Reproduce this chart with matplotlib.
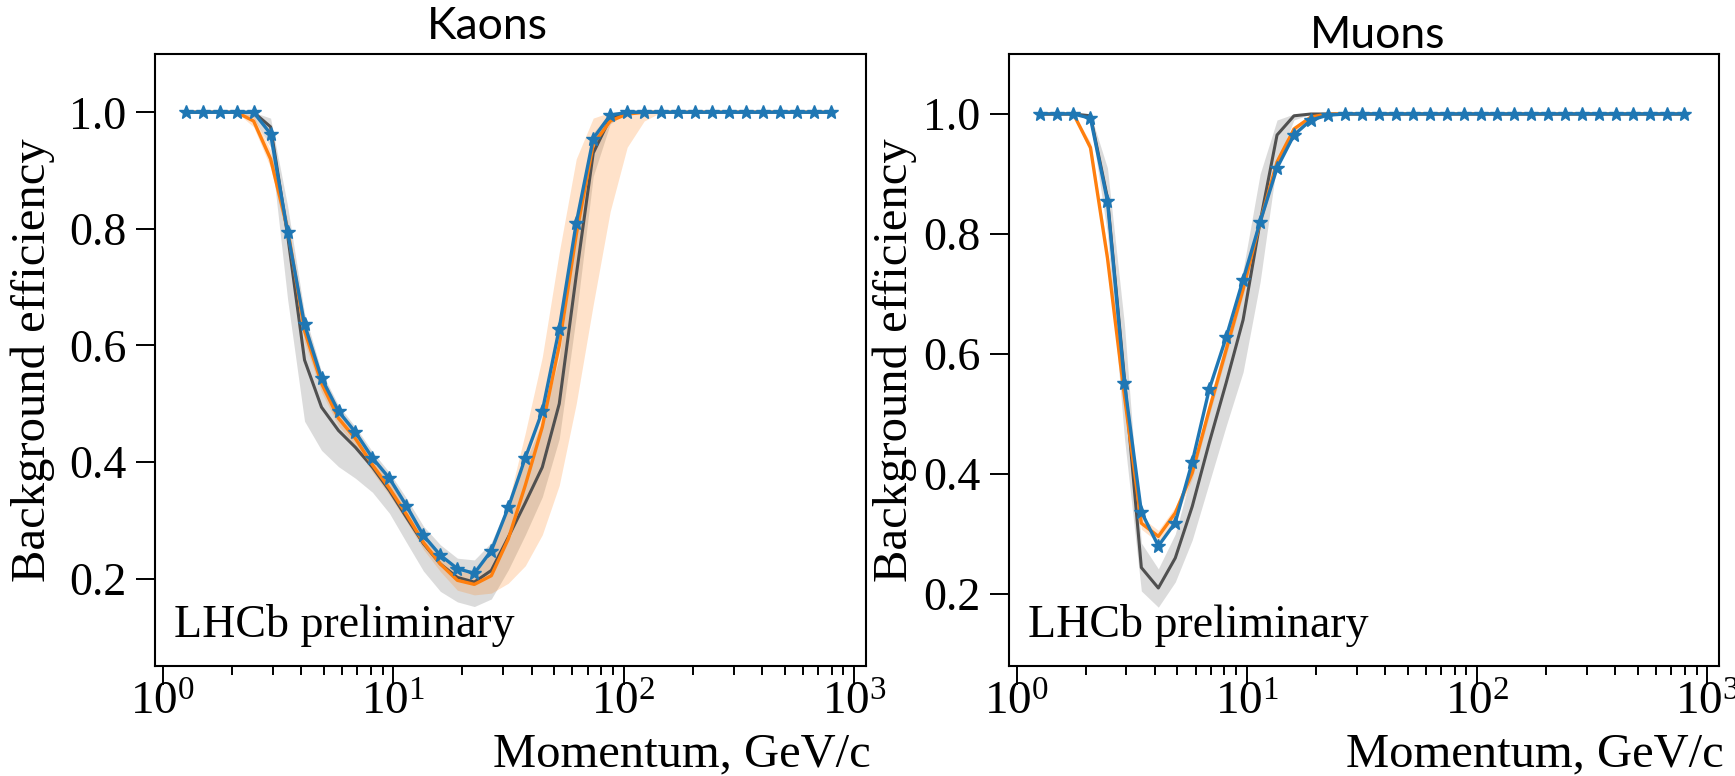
import numpy as np
import matplotlib
matplotlib.use("Agg")
import matplotlib.pyplot as plt

plt.rcParams['font.family'] = ['Liberation Serif', 'DejaVu Serif']
plt.rcParams['mathtext.fontset'] = 'stix'

# momentum bin centres (GeV/c)
momentum = [1.259, 1.492, 1.767, 2.094, 2.482, 2.941, 3.484, 4.129, 4.892, 5.797,
            6.869, 8.139, 9.643, 11.43, 13.54, 16.04, 19.01, 22.52, 26.69, 31.62,
            37.47, 44.40, 52.61, 62.34, 73.86, 87.52, 103.7, 122.9, 145.6, 172.5,
            204.5, 242.2, 287.1, 340.1, 403.0, 477.5, 565.8, 670.4, 794.3]

# ---- Kaons ----
kaon_blue = [1, 1, 1, 1, 1, 0.963, 0.795, 0.636, 0.544, 0.487,
             0.451, 0.407, 0.372, 0.325, 0.274, 0.240, 0.217, 0.209, 0.248, 0.322,
             0.407, 0.487, 0.629, 0.810, 0.955, 0.995, 1, 1, 1, 1,
             1, 1, 1, 1, 1, 1, 1, 1, 1]
kaon_orange = [1, 1, 1, 1, 0.985, 0.920, 0.800, 0.625, 0.535, 0.475,
               0.440, 0.395, 0.355, 0.310, 0.262, 0.225, 0.197, 0.190, 0.205, 0.268,
               0.360, 0.460, 0.600, 0.790, 0.945, 0.985, 0.997, 1, 1, 1,
               1, 1, 1, 1, 1, 1, 1, 1, 1]
kaon_orange_lo = [1, 1, 1, 1, 0.975, 0.905, 0.780, 0.605, 0.520, 0.462,
                  0.428, 0.383, 0.343, 0.298, 0.250, 0.212, 0.180, 0.172, 0.175, 0.192,
                  0.222, 0.275, 0.360, 0.500, 0.670, 0.830, 0.940, 0.985, 1, 1,
                  1, 1, 1, 1, 1, 1, 1, 1, 1]
kaon_orange_hi = [1, 1, 1, 1, 0.995, 0.935, 0.815, 0.645, 0.550, 0.490,
                  0.453, 0.408, 0.368, 0.322, 0.275, 0.238, 0.212, 0.210, 0.250, 0.330,
                  0.450, 0.580, 0.760, 0.920, 0.990, 1, 1, 1, 1, 1,
                  1, 1, 1, 1, 1, 1, 1, 1, 1]
kaon_gray = [1, 1, 1, 1, 1, 0.975, 0.790, 0.575, 0.494, 0.454,
             0.425, 0.391, 0.351, 0.305, 0.260, 0.225, 0.202, 0.194, 0.214, 0.271,
             0.330, 0.391, 0.500, 0.720, 0.930, 0.990, 1, 1, 1, 1,
             1, 1, 1, 1, 1, 1, 1, 1, 1]
kaon_gray_lo = [1, 1, 1, 1, 0.990, 0.940, 0.680, 0.470, 0.420, 0.392,
                0.372, 0.348, 0.312, 0.262, 0.213, 0.178, 0.160, 0.152, 0.165, 0.215,
                0.275, 0.340, 0.440, 0.650, 0.890, 0.980, 1, 1, 1, 1,
                1, 1, 1, 1, 1, 1, 1, 1, 1]
kaon_gray_hi = [1, 1, 1, 1, 1, 0.990, 0.840, 0.655, 0.555, 0.497,
                0.460, 0.418, 0.382, 0.338, 0.290, 0.258, 0.235, 0.232, 0.262, 0.330,
                0.400, 0.470, 0.580, 0.800, 0.965, 0.998, 1, 1, 1, 1,
                1, 1, 1, 1, 1, 1, 1, 1, 1]

# ---- Muons ----
muon_blue = [1, 1, 1, 0.993, 0.855, 0.552, 0.337, 0.280, 0.319, 0.420,
             0.541, 0.628, 0.724, 0.820, 0.910, 0.965, 0.990, 0.998, 1, 1,
             1, 1, 1, 1, 1, 1, 1, 1, 1, 1,
             1, 1, 1, 1, 1, 1, 1, 1, 1]
muon_orange = [1, 1, 1, 0.944, 0.760, 0.530, 0.318, 0.296, 0.335, 0.402,
               0.507, 0.607, 0.708, 0.820, 0.920, 0.975, 0.995, 1, 1, 1,
               1, 1, 1, 1, 1, 1, 1, 1, 1, 1,
               1, 1, 1, 1, 1, 1, 1, 1, 1]
muon_orange_lo = [1, 1, 1, 0.935, 0.745, 0.515, 0.308, 0.286, 0.325, 0.392,
                  0.497, 0.597, 0.698, 0.810, 0.912, 0.970, 0.992, 1, 1, 1,
                  1, 1, 1, 1, 1, 1, 1, 1, 1, 1,
                  1, 1, 1, 1, 1, 1, 1, 1, 1]
muon_orange_hi = [1, 1, 1, 0.953, 0.775, 0.545, 0.328, 0.306, 0.345, 0.412,
                  0.517, 0.617, 0.718, 0.830, 0.928, 0.980, 0.998, 1, 1, 1,
                  1, 1, 1, 1, 1, 1, 1, 1, 1, 1,
                  1, 1, 1, 1, 1, 1, 1, 1, 1]
muon_gray = [1, 1, 1, 0.997, 0.860, 0.560, 0.244, 0.210, 0.260, 0.346,
             0.452, 0.552, 0.657, 0.820, 0.965, 0.997, 1, 1, 1, 1,
             1, 1, 1, 1, 1, 1, 1, 1, 1, 1,
             1, 1, 1, 1, 1, 1, 1, 1, 1]
muon_gray_lo = [1, 1, 1, 0.990, 0.800, 0.460, 0.205, 0.178, 0.220, 0.290,
                0.385, 0.480, 0.570, 0.720, 0.920, 0.990, 1, 1, 1, 1,
                1, 1, 1, 1, 1, 1, 1, 1, 1, 1,
                1, 1, 1, 1, 1, 1, 1, 1, 1]
muon_gray_hi = [1, 1, 1, 1, 0.910, 0.650, 0.285, 0.242, 0.300, 0.405,
                0.520, 0.625, 0.740, 0.900, 0.990, 1, 1, 1, 1, 1,
                1, 1, 1, 1, 1, 1, 1, 1, 1, 1,
                1, 1, 1, 1, 1, 1, 1, 1, 1]

titles = ["Kaons", "Muons"]
ylabel = "Background efficiency"
xlabel = "Momentum, GeV/c"
watermark = "LHCb preliminary"
yticks = [0.2, 0.4, 0.6, 0.8, 1.0]

BLUE = "#1f77b4"
ORANGE = "#ff7f0e"
DARK = "#505050"

W, H = 1735, 776
fig = plt.figure(figsize=(W / 100, H / 100), dpi=100)

panels = [
    dict(rect=[155 / W, 1 - 666 / H, 711 / W, 612 / H], ylim=(0.05, 1.10),
         blue=kaon_blue, orange=kaon_orange, olo=kaon_orange_lo, ohi=kaon_orange_hi,
         gray=kaon_gray, glo=kaon_gray_lo, ghi=kaon_gray_hi, ylab_x=-0.141),
    dict(rect=[1009 / W, 1 - 666 / H, 710 / W, 612 / H], ylim=(0.08, 1.10),
         blue=muon_blue, orange=muon_orange, olo=muon_orange_lo, ohi=muon_orange_hi,
         gray=muon_gray, glo=muon_gray_lo, ghi=muon_gray_hi, ylab_x=-0.130),
]

x = np.array(momentum)
for p in panels:
    ax = fig.add_axes(p["rect"])
    ax.fill_between(x, p["glo"], p["ghi"], color="gray", alpha=0.28, lw=0, zorder=1)
    ax.fill_between(x, p["olo"], p["ohi"], color=ORANGE, alpha=0.22, lw=0, zorder=1)
    ax.plot(x, p["gray"], color=DARK, lw=2.2, zorder=2)
    ax.plot(x, p["orange"], color=ORANGE, lw=2.4, zorder=3)
    ax.plot(x, p["blue"], color=BLUE, lw=2.4, marker="*", ms=10, zorder=4)
    ax.set_xscale("log")
    ax.set_xlim(10 ** -0.033, 10 ** 3.052)
    ax.set_ylim(*p["ylim"])
    ax.set_yticks(yticks)
    ax.set_yticklabels([f"{v:.1f}" for v in yticks])
    for s in ax.spines.values():
        s.set_linewidth(1.5)
    ax.tick_params(axis="both", which="major", direction="out", length=13.5, width=1.4,
                   labelsize=33)
    ax.tick_params(axis="y", which="major", pad=7)
    ax.tick_params(axis="x", which="major", pad=-2, labelsize=34)
    ax.tick_params(axis="x", which="minor", direction="out", length=6.5, width=1.4)
    ax.set_ylabel(ylabel, fontsize=35)
    ax.yaxis.set_label_coords(p["ylab_x"], 0.5)
    ax.set_xlabel(xlabel, fontsize=35, ha="right", va="center")
    ax.xaxis.set_label_coords(1.007, -0.145)
    ax.text(0.027, 0.047, watermark, transform=ax.transAxes, fontsize=33,
            ha="left", va="baseline")

fig.text(487 / W, 1 - 39 / H, titles[0], fontsize=32, family="Lato",
         ha="center", va="baseline")
fig.text(1378 / W, 1 - 48 / H, titles[1], fontsize=32, family="Lato",
         ha="center", va="baseline")

fig.savefig("out.png", dpi=100)
